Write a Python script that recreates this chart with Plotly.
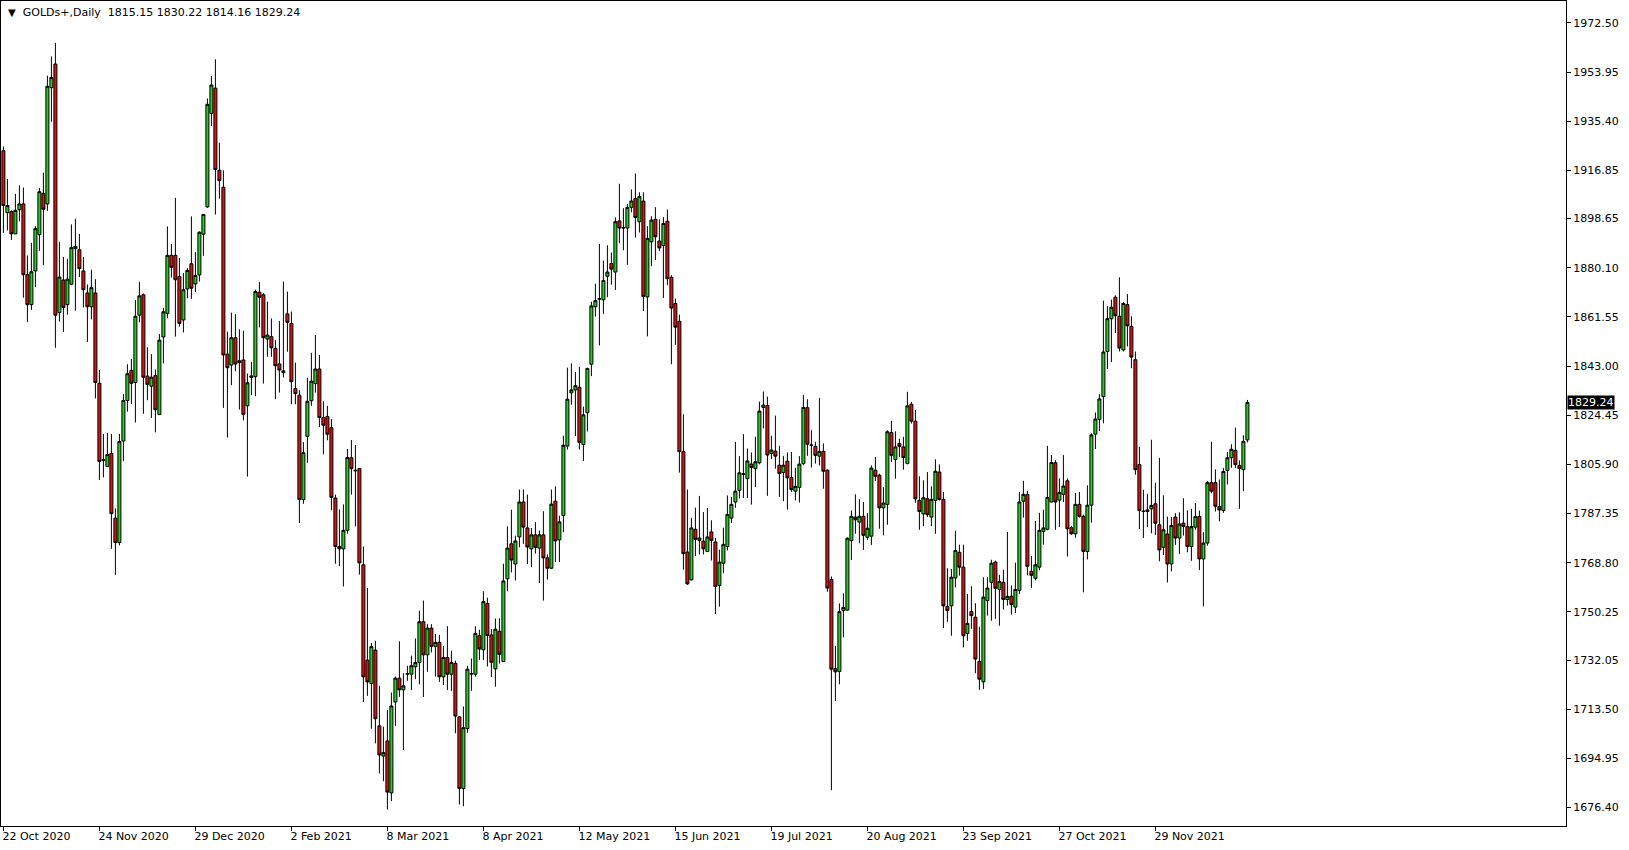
import plotly.graph_objects as go

# ---------------- data ----------------
opens = [
1924.3,1900.9,1901.3,1892.9,1902.0,1904.2,1877.5,1866.2,1878.9,1892.6,
1908.2,1904.2,1948.1,1957.0,1863.2,1875.5,1866.2,1873.9,1887.3,1886.9,
1878.9,1870.6,1865.4,1870.6,1836.5,1807.4,1805.1,1810.0,1785.6,1776.4,
1814.7,1830.0,1841.4,1836.8,1862.2,1869.9,1839.2,1835.4,1839.4,1824.7,
1854.0,1862.9,1884.8,1884.8,1876.8,1860.4,1872.1,1881.6,1874.0,1877.4,
1892.8,1903.1,1938.4,1947.9,1916.9,1910.5,1847.5,1843.4,1853.7,1844.3,
1845.3,1828.0,1838.7,1839.0,1870.9,1869.9,1853.2,1854.1,1849.7,1843.8,
1840.5,1862.7,1859.1,1834.5,1832.0,1792.6,1816.5,1829.9,1836.4,1841.9,
1823.6,1824.0,1819.7,1793.2,1774.9,1774.0,1781.0,1808.4,1803.7,1804.3,
1768.0,1732.0,1723.2,1735.8,1707.2,1695.8,1701.5,1681.9,1716.2,1725.2,
1720.8,1726.7,1726.7,1729.5,1731.1,1746.5,1734.0,1744.1,1737.2,1738.7,
1725.7,1733.0,1726.7,1730.8,1710.6,1683.6,1706.2,1726.7,1726.7,1741.2,
1735.9,1753.4,1741.5,1728.7,1742.9,1731.5,1762.7,1775.9,1768.3,1778.5,
1791.7,1781.9,1774.0,1779.3,1774.3,1779.3,1770.6,1766.7,1792.0,1777.4,
1786.6,1812.8,1832.9,1834.0,1835.0,1813.4,1825.4,1843.7,1865.4,1868.2,
1868.0,1876.9,1881.7,1878.5,1897.8,1895.1,1895.1,1902.9,1906.2,1897.5,
1905.3,1869.1,1889.9,1898.4,1890.2,1888.5,1897.7,1876.5,1866.6,1859.9,
1810.7,1772.8,1762.3,1781.4,1777.2,1776.9,1773.0,1780.4,1776.6,1760.2,
1768.6,1774.9,1785.6,1791.7,1796.1,1802.1,1800.5,1806.0,1804.3,1806.5,
1827.4,1828.1,1810.0,1810.9,1805.6,1802.8,1807.1,1800.9,1795.8,1797.2,
1806.2,1827.3,1813.1,1812.7,1809.0,1810.8,1803.7,1762.4,1728.8,1727.7,
1750.7,1750.9,1777.1,1786.0,1784.1,1786.3,1778.4,1778.8,1803.7,1801.8,
1789.5,1790.8,1817.9,1807.7,1813.8,1812.5,1806.2,1828.6,1822.2,1792.3,
1787.2,1792.9,1786.0,1792.3,1803.0,1792.7,1752.3,1752.5,1763.0,1772.7,
1767.1,1742.1,1750.3,1748.2,1731.5,1723.8,1754.5,1761.4,1769.0,1758.7,
1761.4,1754.9,1756.1,1752.0,1758.3,1792.0,1794.6,1765.5,1762.9,1767.1,
1780.6,1781.4,1791.7,1806.5,1792.4,1794.6,1799.7,1782.0,1779.7,1790.8,
1786.3,1773.0,1790.5,1817.3,1822.9,1831.5,1848.5,1860.9,1869.0,1861.8,
1849.1,1866.2,1858.0,1845.4,1805.8,1788.1,1788.7,1789.1,1791.0,1783.1,
1774.6,1779.6,1768.3,1786.0,1778.1,1783.7,1782.4,1774.9,1782.2,1786.2,
1770.2,1776.2,1799.0,1799.0,1790.0,1788.5,1803.6,1808.4,1811.2,1805.5,
1803.9,1815.15]

highs = [
1925.9,1913.6,1901.8,1908.0,1911.2,1910.4,1884.7,1889.5,1895.8,1910.2,
1916.0,1952.6,1959.9,1965.0,1889.9,1884.2,1883.5,1896.5,1898.6,1892.9,
1884.2,1873.8,1879.4,1875.8,1841.5,1817.4,1817.8,1817.4,1789.3,1817.4,
1832.4,1843.7,1845.7,1867.9,1874.8,1870.4,1850.1,1847.5,1841.7,1855.1,
1865.0,1895.7,1889.1,1906.5,1883.8,1878.1,1880.0,1899.5,1886.0,1893.9,
1900.2,1944.0,1952.5,1958.8,1927.3,1916.9,1856.0,1863.2,1862.6,1856.9,
1856.4,1840.2,1844.6,1871.8,1874.7,1870.5,1867.3,1861.0,1852.8,1860.0,
1874.9,1871.1,1863.6,1844.3,1833.9,1814.3,1838.6,1848.0,1854.7,1847.2,
1829.7,1828.0,1823.0,1794.5,1788.9,1790.8,1811.7,1815.1,1813.2,1804.3,
1774.9,1759.2,1738.5,1739.3,1722.3,1706.9,1713.2,1719.8,1725.8,1739.1,
1727.1,1729.9,1733.7,1740.2,1750.7,1754.5,1745.6,1745.6,1741.9,1741.6,
1737.4,1744.8,1735.6,1731.8,1710.9,1714.5,1729.9,1732.6,1744.8,1743.5,
1758.0,1755.6,1743.7,1747.7,1747.8,1768.4,1782.5,1788.8,1779.0,1796.4,
1796.4,1794.5,1781.9,1784.1,1780.9,1788.2,1771.9,1796.4,1797.6,1786.5,
1816.7,1842.4,1844.0,1840.8,1842.7,1827.7,1842.4,1867.3,1874.1,1889.1,
1882.8,1888.6,1885.9,1899.1,1911.8,1902.6,1904.2,1909.7,1915.7,1908.6,
1908.6,1895.8,1899.6,1903.0,1898.4,1899.2,1902.1,1877.3,1868.5,1862.4,
1824.8,1796.4,1785.7,1789.6,1794.0,1787.9,1789.4,1784.8,1778.1,1773.7,
1782.0,1794.2,1793.6,1814.4,1809.0,1817.3,1811.9,1810.4,1816.3,1829.6,
1833.4,1831.5,1816.7,1824.3,1812.9,1809.1,1810.4,1810.6,1804.6,1809.0,
1832.1,1830.5,1818.8,1814.4,1831.0,1813.8,1804.0,1763.6,1737.4,1753.4,
1757.2,1778.4,1788.5,1794.6,1792.7,1791.7,1787.5,1805.5,1808.7,1802.4,
1797.3,1818.8,1822.3,1818.4,1815.6,1816.3,1833.3,1829.5,1826.4,1801.4,
1799.9,1803.0,1797.6,1807.8,1805.9,1795.5,1766.7,1766.4,1780.9,1775.6,
1775.6,1757.0,1759.9,1753.5,1744.6,1763.3,1763.3,1769.9,1769.6,1764.2,
1766.1,1780.4,1760.2,1768.8,1795.5,1799.7,1795.9,1771.3,1784.5,1787.6,
1788.8,1812.9,1809.4,1807.5,1800.6,1809.4,1800.6,1782.6,1795.1,1795.5,
1786.9,1798.0,1817.6,1825.5,1832.4,1867.7,1865.6,1868.1,1869.7,1876.5,
1867.2,1870.2,1861.8,1848.5,1812.5,1796.3,1794.8,1815.2,1799.0,1808.4,
1794.2,1786.2,1786.0,1787.5,1787.8,1793.1,1788.5,1789.1,1791.3,1788.5,
1780.3,1799.6,1814.4,1804.0,1800.2,1804.6,1810.6,1813.5,1819.8,1807.4,
1816.9,1830.22]

lows = [
1893.3,1894.2,1890.6,1892.9,1897.6,1868.8,1859.6,1864.2,1872.8,1886.5,
1881.1,1901.6,1935.2,1849.9,1859.8,1855.9,1862.4,1873.5,1863.9,1876.6,
1865.1,1852.1,1860.6,1830.8,1800.0,1801.0,1805.1,1774.0,1764.2,1775.3,
1807.1,1825.8,1828.7,1821.7,1859.5,1825.0,1830.1,1823.4,1818.0,1824.5,
1844.0,1861.0,1876.4,1854.1,1857.9,1855.7,1868.6,1868.4,1870.9,1874.9,
1884.6,1902.7,1933.6,1900.2,1906.2,1827.2,1816.0,1835.8,1841.1,1826.6,
1822.5,1801.3,1832.0,1831.6,1857.6,1836.4,1846.5,1846.5,1830.5,1833.0,
1838.7,1848.4,1828.6,1828.6,1783.8,1791.0,1806.5,1828.0,1833.0,1820.0,
1809.7,1815.0,1788.6,1768.4,1767.5,1759.8,1779.7,1794.5,1782.5,1764.3,
1716.2,1718.5,1706.1,1700.6,1689.2,1686.3,1675.6,1678.8,1707.2,1718.1,
1698.1,1724.2,1720.7,1724.8,1722.9,1718.1,1727.6,1734.9,1725.8,1723.8,
1722.6,1720.7,1720.4,1704.4,1677.5,1676.9,1704.6,1720.4,1725.8,1732.1,
1732.0,1729.6,1725.6,1722.0,1730.7,1731.5,1758.0,1765.1,1762.1,1774.6,
1775.9,1768.3,1767.1,1772.2,1761.1,1754.5,1762.4,1766.4,1769.0,1769.0,
1780.3,1811.5,1828.4,1816.6,1811.5,1807.2,1818.3,1839.2,1861.7,1850.8,
1862.7,1869.0,1873.7,1871.7,1889.4,1886.7,1881.2,1901.0,1891.5,1893.4,
1863.8,1854.2,1880.7,1883.0,1886.4,1868.7,1873.5,1843.7,1851.0,1802.8,
1766.1,1760.4,1762.1,1771.3,1771.9,1771.9,1772.8,1769.6,1749.4,1752.2,
1764.8,1773.4,1783.8,1789.5,1793.0,1793.2,1793.2,1790.7,1797.4,1805.9,
1819.5,1794.0,1807.9,1804.3,1793.6,1792.0,1788.8,1795.5,1792.3,1791.5,
1805.6,1809.1,1804.7,1806.2,1805.5,1796.7,1757.8,1682.9,1716.6,1722.9,
1740.6,1750.7,1769.8,1779.7,1776.1,1773.6,1777.4,1775.5,1799.6,1781.6,
1779.1,1783.1,1806.8,1800.5,1808.7,1803.9,1805.9,1821.3,1791.4,1781.2,
1782.6,1786.0,1782.6,1779.7,1792.3,1744.1,1746.5,1741.2,1759.5,1763.9,
1736.8,1739.3,1743.8,1727.1,1720.8,1721.1,1748.8,1746.9,1747.6,1745.0,
1751.1,1752.6,1749.2,1749.8,1757.0,1785.8,1764.0,1759.3,1762.1,1765.9,
1775.6,1781.0,1791.5,1781.2,1782.3,1791.7,1771.1,1779.3,1778.2,1785.8,
1757.6,1770.0,1783.9,1811.7,1818.5,1821.4,1841.9,1844.5,1855.5,1848.5,
1848.5,1850.4,1842.2,1802.0,1781.5,1778.1,1782.2,1779.9,1779.3,1769.3,
1771.7,1761.3,1765.5,1775.5,1772.1,1779.0,1772.7,1769.5,1781.2,1766.0,
1752.3,1775.2,1795.0,1788.1,1784.4,1787.6,1798.3,1804.6,1804.5,1789.1,
1795.8,1814.16]

closes = [
1903.6,1903.6,1892.9,1901.8,1904.2,1877.5,1866.2,1878.6,1894.9,1908.8,
1902.2,1948.6,1951.9,1862.2,1876.6,1865.1,1875.8,1887.7,1888.2,1879.8,
1871.8,1865.4,1872.6,1836.8,1807.0,1807.6,1809.6,1787.3,1776.4,1814.5,
1830.0,1840.1,1836.5,1861.8,1869.5,1838.8,1836.1,1838.8,1826.5,1852.8,
1863.5,1884.8,1880.3,1875.6,1859.1,1871.8,1879.1,1872.4,1877.2,1893.5,
1900.2,1941.8,1949.1,1917.2,1913.0,1847.2,1842.4,1853.7,1843.8,1845.0,
1824.8,1836.7,1839.3,1871.1,1869.0,1853.7,1854.7,1849.9,1843.1,1841.5,
1841.2,1859.5,1837.1,1832.6,1792.6,1810.3,1829.7,1837.3,1841.9,1823.6,
1820.7,1817.3,1793.4,1774.9,1774.0,1781.0,1808.5,1804.3,1803.5,1768.7,
1725.7,1723.8,1737.1,1709.9,1696.2,1697.1,1682.2,1714.7,1725.2,1720.8,
1722.3,1726.9,1729.9,1731.1,1746.5,1734.0,1744.1,1737.2,1738.7,1725.7,
1733.0,1726.7,1731.1,1710.9,1683.6,1706.5,1728.6,1726.9,1742.1,1736.2,
1754.1,1741.3,1731.2,1743.7,1734.2,1761.9,1774.3,1769.8,1777.0,1791.7,
1782.2,1774.7,1779.3,1774.6,1779.3,1770.6,1766.7,1790.9,1777.0,1784.2,
1813.1,1830.5,1834.0,1835.6,1814.2,1824.6,1842.1,1865.7,1867.7,1868.4,
1875.3,1878.5,1879.6,1897.5,1895.1,1895.2,1902.9,1905.3,1899.1,1907.0,
1869.3,1891.2,1898.1,1891.8,1887.6,1896.8,1876.0,1864.9,1857.7,1810.7,
1772.2,1760.8,1781.9,1777.6,1778.1,1774.0,1778.5,1777.2,1759.8,1769.0,
1775.7,1787.0,1790.8,1795.8,1802.7,1802.3,1807.2,1804.7,1806.9,1826.0,
1828.3,1809.4,1811.3,1809.0,1802.4,1805.6,1800.8,1796.4,1797.6,1806.0,
1827.4,1813.5,1813.2,1809.3,1810.8,1803.3,1759.2,1728.6,1727.6,1750.3,
1751.9,1778.0,1786.3,1785.0,1786.3,1779.1,1781.8,1804.5,1801.4,1789.5,
1791.3,1818.2,1809.3,1812.5,1812.7,1808.5,1828.0,1822.2,1792.9,1788.1,
1793.3,1786.9,1792.7,1803.3,1792.7,1752.5,1750.7,1763.3,1773.4,1767.1,
1741.2,1745.9,1748.8,1732.4,1724.8,1755.8,1759.2,1768.6,1759.1,1761.7,
1754.9,1756.1,1753.0,1758.7,1791.7,1794.6,1767.4,1764.0,1768.0,1781.0,
1781.9,1793.4,1806.6,1791.7,1795.3,1797.7,1781.6,1779.7,1790.8,1786.3,
1773.0,1790.5,1817.0,1823.0,1830.6,1848.3,1860.9,1865.2,1862.0,1849.8,
1866.6,1858.2,1846.4,1803.9,1788.5,1788.2,1788.1,1790.4,1783.7,1773.6,
1781.2,1768.3,1782.8,1778.1,1783.4,1782.5,1774.9,1782.4,1786.2,1770.2,
1776.2,1799.0,1795.8,1790.1,1788.7,1803.2,1808.4,1811.6,1805.8,1804.3,
1814.6,1829.24]

date_labels = ["22 Oct 2020", "24 Nov 2020", "29 Dec 2020", "2 Feb 2021",
               "8 Mar 2021", "8 Apr 2021", "12 May 2021", "15 Jun 2021",
               "19 Jul 2021", "20 Aug 2021", "23 Sep 2021", "27 Oct 2021",
               "29 Nov 2021"]
date_label_bars = [0, 24, 48, 72, 96, 120, 144, 168, 192, 216, 240, 264, 288]

price_ticks = [1972.50, 1953.95, 1935.40, 1916.85, 1898.65, 1880.10, 1861.55,
               1843.00, 1824.45, 1805.90, 1787.35, 1768.80, 1750.25, 1732.05,
               1713.50, 1694.95, 1676.40]
price_tick_text = ["%.2f" % v for v in price_ticks]

symbol = "GOLDs+,Daily"
last_price = 1829.24

# ---------------- figure ----------------
bars = list(range(len(opens)))
FONT = "DejaVu Sans"

fig = go.Figure()
fig.add_trace(go.Candlestick(
    x=bars, open=opens, high=highs, low=lows, close=closes,
    increasing=dict(line=dict(color="black", width=1), fillcolor="#22d022"),
    decreasing=dict(line=dict(color="black", width=1), fillcolor="#dd1111"),
    whiskerwidth=0,
    showlegend=False,
    hoverinfo="skip",
))

fig.update_layout(
    width=1629, height=850,
    margin=dict(l=1, r=63, t=1, b=24),
    paper_bgcolor="white", plot_bgcolor="white",
    font=dict(family=FONT, size=11, color="black"),
    showlegend=False,
    boxgap=0.25, boxgroupgap=0,
)

fig.update_xaxes(
    range=[-0.6, 390.65],
    rangeslider=dict(visible=False),
    showgrid=False, zeroline=False,
    showline=True, mirror=True, linecolor="black", linewidth=1,
    tickmode="array", tickvals=date_label_bars, ticktext=date_labels,
    ticks="outside", ticklen=4, tickcolor="black", tickwidth=1,
    ticklabelposition="outside right", ticklabelshift=-2,
    tickfont=dict(family=FONT, size=11, color="black"),
)
fig.update_yaxes(
    range=[1669.4, 1980.8],
    side="right",
    showgrid=False, zeroline=False,
    showline=True, mirror=True, linecolor="black", linewidth=1,
    tickmode="array", tickvals=price_ticks, ticktext=price_tick_text,
    ticks="outside", ticklen=4, tickcolor="black", tickwidth=1,
    tickfont=dict(family=FONT, size=11, color="black"),
)

# symbol / OHLC header
fig.add_annotation(
    xref="paper", yref="paper", x=0, y=1, xanchor="left", yanchor="top",
    xshift=5, yshift=-3, showarrow=False,
    text='<span style="font-size:10px">▼</span>\u00a0\u00a0' + symbol + "\u00a0\u00a0"
         + " ".join("%.2f" % v for v in (opens[-1], highs[-1], lows[-1], closes[-1])),
    font=dict(family=FONT, size=11, color="black"),
)

# current price label on the price scale
fig.add_annotation(
    xref="paper", yref="y", x=1, y=last_price, xanchor="left", yanchor="middle",
    xshift=1, showarrow=False, text="%.2f" % last_price,
    font=dict(family=FONT, size=11, color="white"),
    bgcolor="black", borderpad=0,
)

fig.write_html("out.html",
               config={"displayModeBar": False},
               post_script="document.body.style.margin='0';document.body.style.padding='0';")
